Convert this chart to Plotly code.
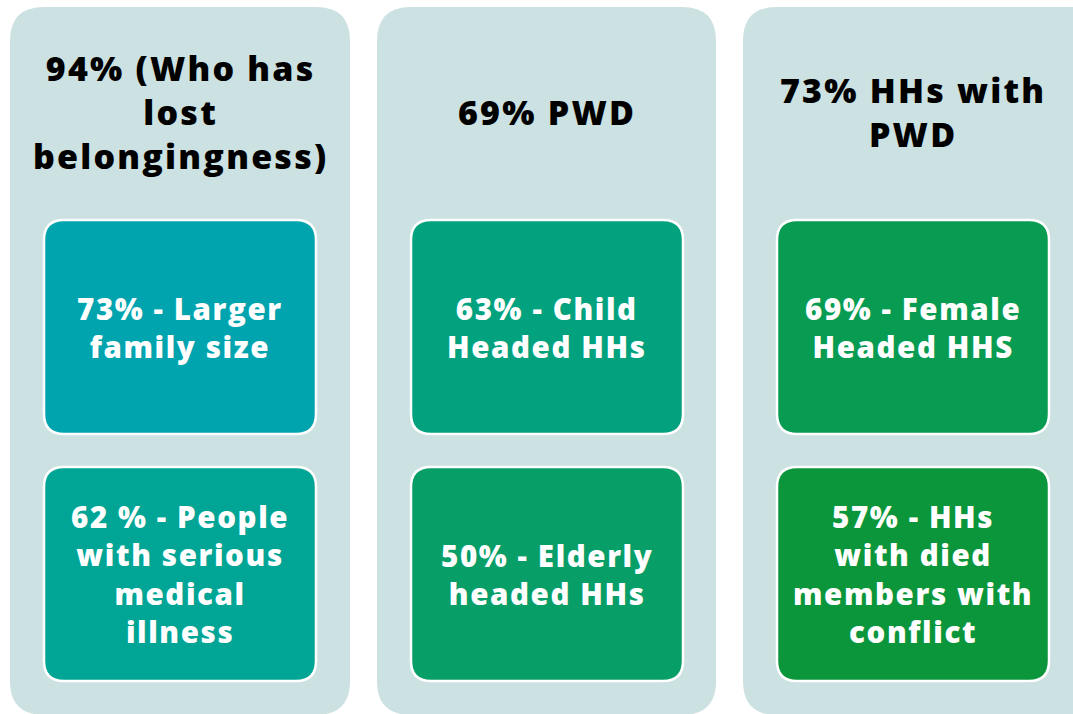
import plotly.graph_objects as go

# ---- data ----
group_titles = [
    ["94% (Who has", "lost", "belongingness)"],
    ["69% PWD"],
    ["73% HHs with", "PWD"],
]
item_top = [
    ["73% - Larger", "family size"],
    ["63% - Child", "Headed HHs"],
    ["69% - Female", "Headed HHS"],
]
item_bottom = [
    ["62 % - People", "with serious", "medical", "illness"],
    ["50% - Elderly", "headed HHs"],
    ["57% - HHs", "with died", "members with", "conflict"],
]
top_colors = ["#00A4AF", "#03A27F", "#089B52"]
bottom_colors = ["#00A596", "#079E68", "#0B963B"]
panel_color = "#CCE1E1"

W, H = 1073, 714
panel_x0 = [10, 377, 743]
panel_x1 = [350, 716, 1110]
panel_y0, panel_y1 = 7, 715
inner_dx0, inner_w = 34, 272
top_box = (220, 434)
bot_box = (467, 681)
title_center_y = 112
font_family = "'Open Sans', Lato, sans-serif"


def rrect(x0, y0, x1, y1, r):
    return (f"M {x0+r},{y0} L {x1-r},{y0} Q {x1},{y0} {x1},{y0+r} "
            f"L {x1},{y1-r} Q {x1},{y1} {x1-r},{y1} L {x0+r},{y1} "
            f"Q {x0},{y1} {x0},{y1-r} L {x0},{y0+r} Q {x0},{y0} {x0+r},{y0} Z")


fig = go.Figure()
shapes, annotations = [], []


def add_text(lines, cx, cy, size, color, spacing):
    txt = "<br>".join(f'<span style="letter-spacing:{spacing}px">{t}</span>' for t in lines)
    annotations.append(dict(
        x=cx, y=cy, xref="x", yref="y", text=txt, showarrow=False,
        xanchor="center", yanchor="middle", align="center",
        font=dict(family=font_family, size=size, color=color, weight=800)))


for g in range(3):
    px0 = panel_x0[g]
    shapes.append(dict(type="path", path=rrect(px0, panel_y0, panel_x1[g], panel_y1, 34),
                       fillcolor=panel_color, line=dict(width=0), layer="below"))
    cx = px0 + 170
    add_text(group_titles[g], cx, title_center_y, 34, "#000000", 2.2)
    ix0 = px0 + inner_dx0
    for (by0, by1), col, lines in [(top_box, top_colors[g], item_top[g]),
                                   (bot_box, bottom_colors[g], item_bottom[g])]:
        shapes.append(dict(type="path", path=rrect(ix0, by0, ix0 + inner_w, by1, 20),
                           fillcolor=col, line=dict(color="white", width=2.5), layer="below"))
        add_text(lines, cx, (by0 + by1) / 2, 29.5, "white", 1.6)

fig.update_layout(
    width=W, height=H, margin=dict(l=0, r=0, t=0, b=0),
    paper_bgcolor="white", plot_bgcolor="white",
    xaxis=dict(range=[0, W], visible=False, fixedrange=True),
    yaxis=dict(range=[H, 0], visible=False, fixedrange=True),
    shapes=shapes, annotations=annotations, showlegend=False,
)
fig.write_html(
    "out.html",
    config={"displayModeBar": False},
    post_script="document.body.style.margin='0';document.body.style.overflow='hidden';",
)
